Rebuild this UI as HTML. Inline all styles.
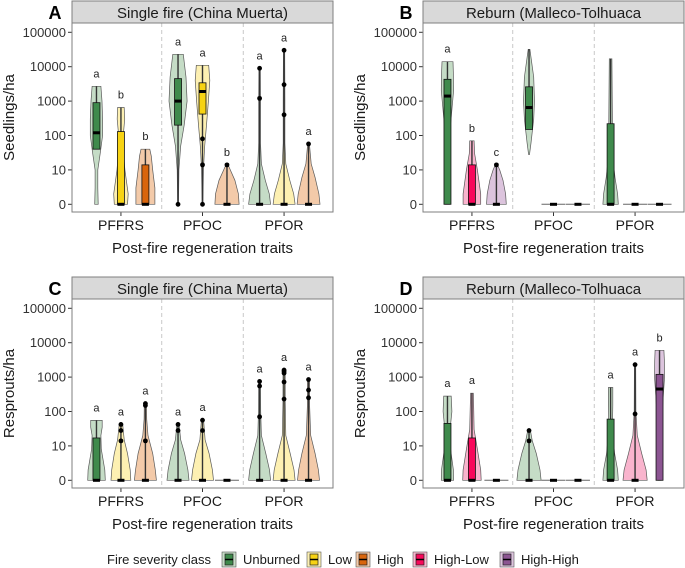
<!DOCTYPE html>
<html><head><meta charset="utf-8"><style>
body{margin:0;background:#fff}
svg{display:block;font-family:"Liberation Sans",Arial,sans-serif}
</style></head><body>
<svg id="chart" width="685" height="568" viewBox="0 0 685 568"></svg>
<script>
const categories = ["PFFRS","PFOC","PFOR"];
const tickValues = [0,10,100,1000,10000,100000];
const tickLabels = ["0","10","100","1000","10000","100000"];
const sevSingle = ["Unburned","Low","High"];
const sevReburn = ["Unburned","High-Low","High-High"];
// violin: [category index, severity index, profile [[value, relWidth]], box [q1,med,q3], whiskerTop, points, letter]
const violinsA = [
 [0,0,[[0,.08],[3,.06],[10,.06],[30,.17],[100,.28],[300,.28],[1000,.25],[2700,.2]],[40,120,900],2700,[],"a"],
 [0,1,[[0,.3],[2,.33],[10,.18],[40,.1],[130,.12],[300,.17],[650,.15]],[0,0,130],650,[],"b"],
 [0,2,[[0,.43],[3,.43],[10,.33],[25,.27],[40,.2]],[0,0,14],40,[],"b"],
 [1,0,[[0,.02],[10,.04],[50,.12],[200,.28],[1000,.41],[5000,.36],[23000,.24]],[200,1000,4500],23000,[0],"a"],
 [1,1,[[0,.02],[10,.04],[50,.1],[200,.18],[1000,.27],[4000,.33],[11000,.28]],[420,1900,3400],11000,[0,14,80],"a"],
 [1,2,[[0,.55],[2,.52],[5,.36],[10,.15],[14,.05]],[0,0,0],14,[14],"b"],
 [2,0,[[0,.5],[2,.44],[5,.26],[15,.08],[60,.04],[1000,.04],[9000,.03]],[0,0,0],9000,[1200,9000],"a"],
 [2,1,[[0,.5],[2,.44],[5,.26],[15,.08],[60,.04],[1000,.04],[30000,.03]],[0,0,0],30000,[400,3000,30000],"a"],
 [2,2,[[0,.52],[2,.47],[6,.3],[15,.12],[57,.04]],[0,0,0],57,[57],"a"]
];
const violinsB = [
 [0,0,[[0,.09],[3,.09],[20,.06],[200,.14],[2000,.28],[6000,.27],[14000,.25]],[0,1400,4300],14000,[],"a"],
 [0,1,[[0,.4],[2,.4],[10,.25],[30,.12],[70,.1]],[0,0,14],70,[],"b"],
 [0,2,[[0,.45],[2,.42],[5,.3],[10,.15],[14,.05]],[0,0,0],14,[14],"c"],
 [1,0,[[28,.02],[60,.09],[300,.21],[1000,.25],[5000,.21],[32000,.04]],[150,650,2600],32000,[],""],
 [1,1,null,[0,0,0],0,[],""],
 [1,2,null,[0,0,0],0,[],""],
 [2,0,[[0,.35],[2,.32],[6,.2],[30,.08],[300,.08],[17000,.06]],[0,0,220],17000,[],""],
 [2,1,null,[0,0,0],0,[],""],
 [2,2,null,[0,0,0],0,[],""]
];
const violinsC = [
 [0,0,[[0,.4],[2,.38],[8,.22],[20,.2],[35,.26],[55,.26]],[0,0,17],55,[],"a"],
 [0,1,[[0,.45],[2,.42],[6,.3],[15,.15],[42,.08]],[0,0,0],42,[14,28,42],"a"],
 [0,2,[[0,.5],[2,.45],[6,.33],[20,.12],[60,.06],[170,.05]],[0,0,0],170,[14,150,170],"a"],
 [1,0,[[0,.5],[2,.45],[6,.3],[15,.12],[42,.05]],[0,0,0],42,[28,42],"a"],
 [1,1,[[0,.5],[2,.45],[6,.3],[15,.12],[56,.05]],[0,0,0],56,[28,56],"a"],
 [1,2,null,[0,0,0],0,[],""],
 [2,0,[[0,.5],[2,.45],[6,.28],[20,.08],[100,.05],[750,.04]],[0,0,0],750,[70,550,750],"a"],
 [2,1,[[0,.5],[2,.45],[6,.28],[20,.08],[200,.05],[1600,.05]],[0,0,0],1600,[230,720,1300,1450,1600],"a"],
 [2,2,[[0,.5],[2,.45],[6,.3],[20,.1],[150,.05],[850,.05]],[0,0,0],850,[250,420,850],"a"]
];
const violinsD = [
 [0,0,[[0,.28],[2,.27],[10,.12],[30,.12],[100,.2],[280,.17]],[0,0,45],280,[],"a"],
 [0,1,[[0,.42],[2,.4],[8,.25],[30,.1],[120,.08],[340,.06]],[0,0,17],340,[],"a"],
 [0,2,null,[0,0,0],0,[],""],
 [1,0,[[0,.55],[2,.5],[6,.33],[14,.15],[28,.06]],[0,0,0],28,[14,28],""],
 [1,1,null,[0,0,0],0,[],""],
 [1,2,null,[0,0,0],0,[],""],
 [2,0,[[0,.35],[2,.32],[6,.18],[30,.08],[150,.1],[500,.1]],[0,0,60],500,[],"a"],
 [2,1,[[0,.55],[2,.5],[6,.3],[20,.1],[100,.04],[2300,.03]],[0,0,0],2300,[85,2300],"a"],
 [2,2,[[0,.06],[5,.07],[50,.1],[300,.17],[1000,.23],[3000,.22],[6000,.2]],[0,450,1200],6000,[],"b"]
];
const sevColors = {"Unburned":["#c5dcc6","#3f8a4c"],"Low":["#fdf0b2","#f7d313"],"High":["#f3caa9","#d9650c"],"High-Low":["#f9b4cd","#f8085b"],"High-High":["#dcc4dd","#8c5592"]};

const NS="http://www.w3.org/2000/svg";
const svg=document.getElementById('chart');
function mk(tag,attrs,parent){const e=document.createElementNS(NS,tag);for(const k in attrs)e.setAttribute(k,attrs[k]);(parent||svg).appendChild(e);return e;}
function lg(v){return Math.log10(Math.max(v,1));}

const panels=[
 {L:72,T:0,tag:"A",title:"Single fire (China Muerta)",ylab:"Seedlings/ha",sev:sevSingle,data:violinsA,name:"panel-a"},
 {L:423,T:0,tag:"B",title:"Reburn (Malleco-Tolhuaca",ylab:"Seedlings/ha",sev:sevReburn,data:violinsB,name:"panel-b"},
 {L:72,T:276,tag:"C",title:"Single fire (China Muerta)",ylab:"Resprouts/ha",sev:sevSingle,data:violinsC,name:"panel-c"},
 {L:423,T:276,tag:"D",title:"Reburn (Malleco-Tolhuaca",ylab:"Resprouts/ha",sev:sevReburn,data:violinsD,name:"panel-d"}
];
panels.forEach(p=>{
 const g=mk('g',{});
 
 
 const W=261, top=p.T+23, bot=p.T+212;
 const y0=p.T+204.3, unit=34.4;
 const yS=v=>y0-lg(v)*unit;
 const pxU=W/3.2;
 const xS=(c,s)=>p.L+(c+0.6)*pxU+(s-1)*0.3*pxU;
 const MW=22;
 const st=mk('rect',{x:p.L,y:p.T+1,width:W,height:22,fill:'#d9d9d9',stroke:'#7f7f7f','stroke-width':1},g);
 
 const stt=mk('text',{x:p.L+W/2,y:p.T+18,'text-anchor':'middle','font-size':15,fill:'#1a1a1a'},g);stt.textContent=p.title;
 
 const tg=mk('text',{x:p.L-17,y:p.T+19,'text-anchor':'middle','font-size':18,'font-weight':'bold'},g);tg.textContent=p.tag;
 
 mk('rect',{x:p.L,y:top,width:W,height:bot-top,fill:'#fff',stroke:'none'},g);
 [1.5,2.5].forEach(d=>{const l=mk('line',{x1:p.L+(d-0.4)*pxU,x2:p.L+(d-0.4)*pxU,y1:top,y2:bot,stroke:'#c8c8c8','stroke-dasharray':'4,3'},g);
  });
 tickValues.forEach((v,i)=>{const y=yS(v);
  mk('line',{x1:p.L-4,x2:p.L,y1:y,y2:y,stroke:'#333'},g);
  const t=mk('text',{x:p.L-6,y:y+4.5,'text-anchor':'end','font-size':13,fill:'#333'},g);t.textContent=tickLabels[i];
  });
 categories.forEach((c,i)=>{const x=p.L+(i+0.6)*pxU;
  mk('line',{x1:x,x2:x,y1:bot,y2:bot+4,stroke:'#333'},g);
  const t=mk('text',{x:x,y:bot+18,'text-anchor':'middle','font-size':14,fill:'#1a1a1a'},g);t.textContent=c;
  });
 const xt=mk('text',{x:p.L+W/2,y:p.T+253,'text-anchor':'middle','font-size':15,fill:'#1a1a1a'},g);xt.textContent="Post-fire regeneration traits";
 
 const yx=p.L-58,yy=(top+bot)/2;
 const yt=mk('text',{x:yx,y:yy,'text-anchor':'middle','font-size':15,fill:'#1a1a1a',transform:`rotate(-90 ${yx} ${yy})`},g);yt.textContent=p.ylab;
 
 p.data.forEach(d=>{
  const [ci,si,prof,box,wt,pts,letter]=d;
  const sev=p.sev[si], cx=xS(ci,si), col=sevColors[sev];
  const vg=mk('g',{},g);
  
  
  if(!prof){
   mk('line',{x1:cx-12,x2:cx+12,y1:y0,y2:y0,stroke:'#666','stroke-width':1},vg);
   mk('rect',{x:cx-3.5,y:y0-1.5,width:7,height:3,fill:'#000'},vg);
   return;
  }
  let r=[],l=[];
  prof.forEach(([v,w])=>{r.push([cx+w*MW,yS(v)]);l.push([cx-w*MW,yS(v)]);});
  const pts2=r.concat(l.reverse());
  mk('path',{d:'M'+pts2.map(q=>q[0].toFixed(1)+','+q[1].toFixed(1)).join('L')+'Z',fill:col[0],stroke:'#5a5a5a','stroke-width':0.7},vg);
  const [q1,md,q3]=box;
  mk('line',{x1:cx,x2:cx,y1:yS(Math.min(...pts,q1)),y2:yS(wt),stroke:'#333','stroke-width':1.4},vg);
  if(q3>q1) mk('rect',{x:cx-3.5,y:yS(q3),width:7,height:yS(q1)-yS(q3),fill:col[1],stroke:'#111','stroke-width':0.8},vg);
  mk('rect',{x:cx-3.5,y:yS(md)-1.5,width:7,height:3,fill:'#000'},vg);
  pts.forEach(v=>{const c=mk('circle',{cx:cx,cy:yS(v),r:2.4,fill:'#000'},vg);
   });
  if(letter){const t=mk('text',{x:cx,y:yS(wt)-9,'text-anchor':'middle','font-size':11,fill:'#222'},vg);t.textContent=letter;
   }
 });
 mk('rect',{x:p.L,y:top,width:W,height:bot-top,fill:'none',stroke:'#7f7f7f','stroke-width':1},g);
});
const lgd=mk('g',{});


const lt=mk('text',{x:107,y:564,'font-size':13,fill:'#1a1a1a'},lgd);lt.textContent="Fire severity class";

const legendItems=[["Unburned",222],["Low",307],["High",356],["High-Low",413],["High-High",500]];
legendItems.forEach(([n,x])=>{
 const eg=mk('g',{},lgd);
 
 
 const c=sevColors[n];
 mk('rect',{x:x,y:552,width:14,height:15,fill:c[0],stroke:'#555','stroke-width':0.6},eg);
 mk('rect',{x:x+3,y:554,width:8,height:11,fill:c[1],stroke:'#222','stroke-width':0.7},eg);
 mk('line',{x1:x+3,x2:x+11,y1:559.5,y2:559.5,stroke:'#000','stroke-width':1.5},eg);
 const t=mk('text',{x:x+21,y:564,'font-size':13,fill:'#1a1a1a'},eg);t.textContent=n;
});
</script>
</body></html>
